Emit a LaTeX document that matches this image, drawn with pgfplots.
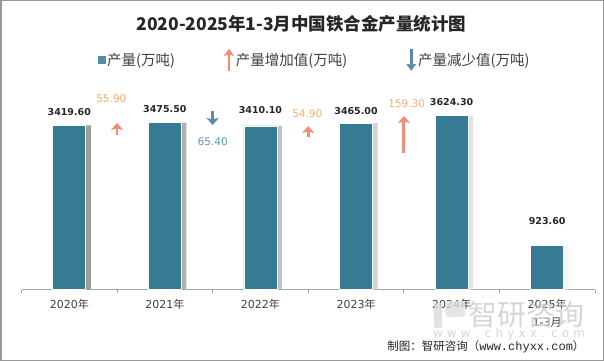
\documentclass[border=0pt]{standalone}
\usepackage{pgfplots}
\pgfplotsset{compat=1.18}
\usepackage{pgfplotstable}
\usetikzlibrary{arrows.meta}
\usepackage{fontspec}
\setmainfont{DejaVu Sans}
\newfontfamily\cjk{Noto Sans CJK SC}
\newfontfamily\mono{Liberation Mono}
\definecolor{barcol}{HTML}{367A93}
\definecolor{upcol}{HTML}{F08C78}
\definecolor{uplab}{HTML}{F4AC6E}
\definecolor{dncol}{HTML}{5A8CA5}
\definecolor{dnlab}{HTML}{5B97B5}
\definecolor{txt}{HTML}{404040}

\pgfplotstableread{
x y
0 3419.6
1 3475.5
2 3410.1
3 3465.0
4 3624.3
5 923.6
}\prodtab

\pgfplotstableread{
x y v
0.5 3219 250
2.5 3177 229
3.5 2850 765
}\uptab

\pgfplotstableread{
x y v
1.5 3719 -292
}\dntab

\begin{document}
\begin{tikzpicture}
\useasboundingbox (0,0) rectangle (604bp,361bp);
\begin{axis}[
  at={(21.5bp,71.5bp)}, anchor=south west,
  scale only axis, width=573.5bp, height=230.4bp,
  xmin=-0.5, xmax=5.5, ymin=0, ymax=4800,
  axis y line=none, axis x line*=bottom,
  x axis line style={draw=black!35, line width=0.8bp, -},
  xtick={0,1,2,3,4,5}, major tick length=0pt,
  xtick style={draw=none},
  xticklabels={2020{\cjk 年}, 2021{\cjk 年}, 2022{\cjk 年}, 2023{\cjk 年}, 2024{\cjk 年}, 2025{\cjk 年}\\1-3{\cjk 月}},
  xticklabel style={font=\fontsize{11bp}{18bp}\selectfont, text=txt, align=center, yshift=-6bp},
  extra x ticks={-0.5,0.5,1.5,2.5,3.5,4.5,5.5}, extra x tick labels={},
  extra x tick style={tick align=outside, major tick length=3.5bp, xtick style={draw=black!35, line width=0.8bp}},
  clip=false,
  legend columns=3,
  legend style={at={(0.511,0.997)}, anchor=center, draw=none, fill=none,
    font=\fontsize{14.5bp}{16bp}\selectfont\cjk, text=txt, inner sep=0pt,
    /tikz/every even column/.append style={column sep=47bp}},
]
\addplot[forget plot, ybar, bar width=5bp, bar shift=19bp, left color=black!38, right color=black!4, draw=none] table {\prodtab};
\addplot[ybar, bar width=33bp, bar shift=0pt, fill=barcol, draw=white, line width=0.6bp,
  legend image code/.code={\fill[barcol!85!white] (0bp,-3.5bp) rectangle (7bp,3.5bp);}] table {\prodtab};
\addlegendentry{产量(万吨)}
\addplot[no markers, quiver={u=0,v=\thisrow{v}}, upcol, line width=2.8bp, -{Stealth[length=7bp,width=12bp,inset=1.5bp]},
  legend image code/.code={\draw[upcol, line width=2.8bp, -{Stealth[length=7bp,width=10bp,inset=1bp]}] (4bp,-11bp) -- (4bp,11bp);}] table {\uptab};
\addlegendentry{产量增加值(万吨)\hspace*{10bp}}
\addplot[no markers, quiver={u=0,v=\thisrow{v}}, dncol, line width=2.8bp, -{Stealth[length=7bp,width=12bp,inset=1.5bp]},
  legend image code/.code={\draw[dncol, line width=2.8bp, -{Stealth[length=7bp,width=10bp,inset=1bp]}] (4bp,11bp) -- (4bp,-11bp);}] table {\dntab};
\addlegendentry{产量减少值(万吨)}
\addplot[forget plot, only marks, mark=none, nodes near coords, point meta=explicit symbolic,
  nodes near coords style={anchor=center, font=\bfseries\fontsize{9.5bp}{11bp}\selectfont, text=black!85}]
  coordinates {(0,3692)[3419.60] (1,3760)[3475.50] (2,3740)[3410.10] (3,3725)[3465.00] (4,3900)[3624.30] (5,1427)[923.60]};
\addplot[forget plot, only marks, mark=none, nodes near coords, point meta=explicit symbolic,
  nodes near coords style={anchor=center, font=\fontsize{10.5bp}{12bp}\selectfont, text=uplab}]
  coordinates {(0.44,3969)[55.90] (2.49,3656)[54.90] (3.53,3865)[159.30]};
\addplot[forget plot, only marks, mark=none, nodes near coords, point meta=explicit symbolic,
  nodes near coords style={anchor=center, font=\fontsize{10.5bp}{12bp}\selectfont, text=dnlab}]
  coordinates {(1.5,3073)[65.40]};
\end{axis}
% title
\node[font=\fontsize{17.5bp}{20bp}\selectfont\cjk\bfseries, text=black!85] at (301.5bp,337bp) {2020-2025年1-3月中国铁合金产量统计图};
% watermark
\node[text=black!20, font=\fontsize{29bp}{30bp}\selectfont\cjk, opacity=0.8] at (526.5bp,46bp) {智研咨询};
\node[text=black!20, font=\fontsize{12bp}{13bp}\selectfont, opacity=0.8] at (509bp,27bp) {\makebox[152bp][s]{w w w . c h y x x . c o m}};
\fill[black!15, opacity=0.8, rounded corners=2bp] (434bp,33bp) rectangle (442bp,58bp);
\fill[black!12, opacity=0.8, rounded corners=3bp] (445bp,44bp) rectangle (465bp,60bp);
% footer
\node[anchor=east, text=black!85, font=\fontsize{11.5bp}{13bp}\selectfont\cjk] at (588bp,14.3bp) {制图：智研咨询（{\mono\fontsize{12bp}{13bp}\selectfont www.chyxx.com}）};
% frame
\draw[black!40, line width=1.5bp] (0.75bp,0.75bp) rectangle (603.25bp,360.25bp);
\end{tikzpicture}
\end{document}
